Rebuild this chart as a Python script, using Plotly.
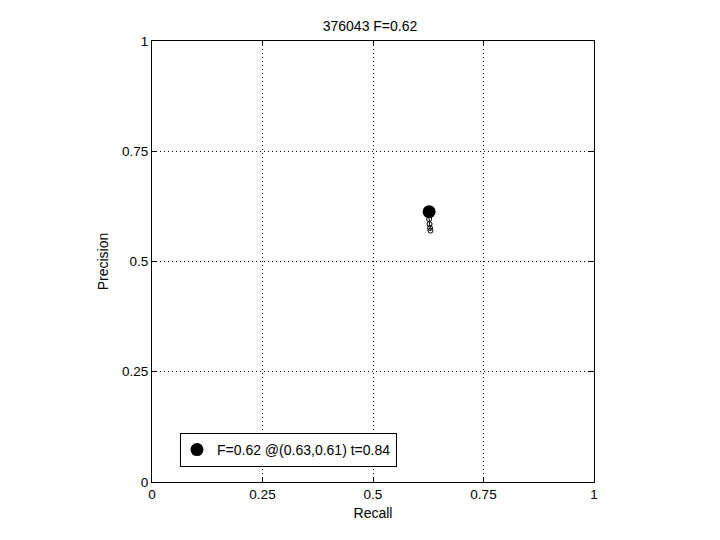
import plotly.graph_objects as go

title = "376043 F=0.62"
curve_recall = [0.624, 0.626, 0.627, 0.628, 0.629, 0.630]
curve_precision = [0.614, 0.605, 0.596, 0.585, 0.576, 0.570]
best_recall = [0.627]
best_precision = [0.613]
legend_label = "F=0.62 @(0.63,0.61) t=0.84"
tick_vals = [0, 0.25, 0.5, 0.75, 1]
tick_text = ["0", "0.25", "0.5", "0.75", "1"]

FONT = "Liberation Sans, Arial"

fig = go.Figure()
fig.add_trace(go.Scatter(x=curve_recall, y=curve_precision, mode="lines+markers",
                         line=dict(color="black", width=1),
                         marker=dict(symbol="circle-open", size=5, color="black", line=dict(width=1)),
                         showlegend=False, hoverinfo="skip"))
fig.add_trace(go.Scatter(x=best_recall, y=best_precision, mode="markers",
                         marker=dict(symbol="circle", size=13, color="black"),
                         name=legend_label, showlegend=True))

axis_common = dict(range=[0, 1], tickvals=tick_vals, ticktext=tick_text,
                   showgrid=True, gridcolor="black", griddash="1px,3px", gridwidth=1,
                   zeroline=False, showline=True, linecolor="black", linewidth=1,
                   mirror="ticks", ticks="inside", ticklen=5, tickcolor="black",
                   tickfont=dict(family=FONT, size=13.5, color="black"))

fig.update_layout(
    width=720, height=540,
    margin=dict(l=144, r=134, t=33, b=66),
    paper_bgcolor="white", plot_bgcolor="white",
    title=dict(text=title, x=(370 - 8) / 720, xanchor="center", y=1 - 18/540, yanchor="middle",
               font=dict(family=FONT, size=14, color="black")),
    xaxis=dict(**axis_common, title=dict(text="Recall", standoff=6,
               font=dict(family=FONT, size=14, color="black"))),
    yaxis=dict(**axis_common, title=dict(text="Precision", standoff=10,
               font=dict(family=FONT, size=14, color="black"))),
    legend=dict(x=(180 - 152) / 442, y=(481 - 432) / 441, xanchor="left", yanchor="top",
                bgcolor="white", bordercolor="black", borderwidth=1,
                font=dict(family=FONT, size=14, color="black"),
                itemwidth=30, tracegroupgap=0, indentation=-4),
    showlegend=True,
)
fig.write_html("out.html")
